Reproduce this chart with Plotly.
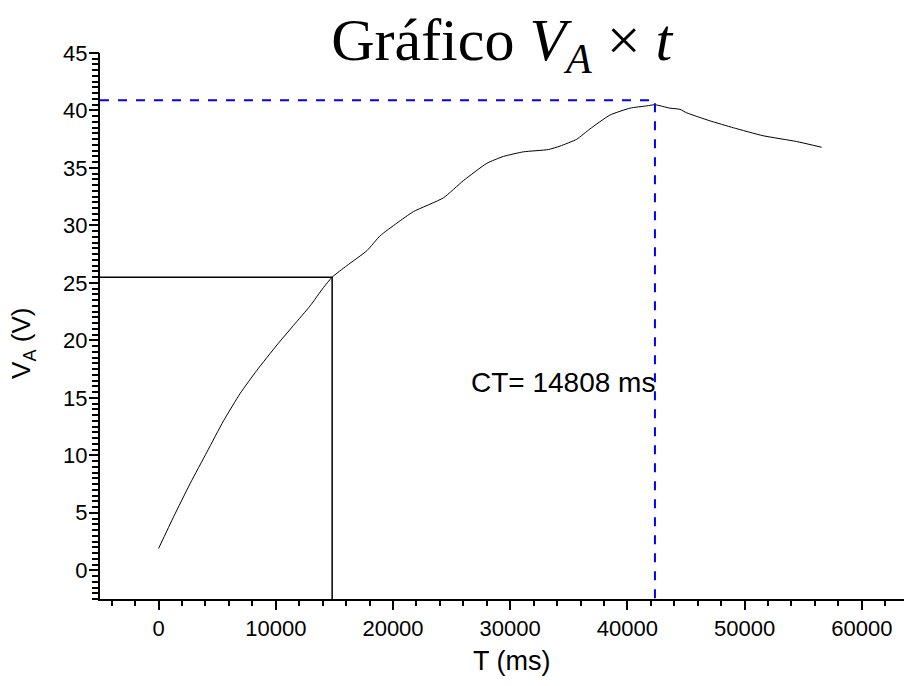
import plotly.graph_objects as go

# Measured capacitor voltage over time
t_ms = [0, 1280, 2700, 4130, 5540, 6970, 8390, 10100, 11510, 12930, 14070,
        14808, 16060, 17770, 18900, 20330, 21740, 24300, 26010, 28000, 29420,
        31120, 33250, 34250, 35680, 36810, 38510, 40220, 41640, 42350, 43630,
        44480, 45050, 47040, 49030, 51590, 54430, 56570]
v_a = [1.9, 4.65, 7.56, 10.3, 13.0, 15.4, 17.4, 19.6, 21.3, 23.0, 24.6,
       25.5, 26.5, 27.8, 29.1, 30.2, 31.2, 32.4, 33.9, 35.4, 36.0,
       36.4, 36.6, 36.9, 37.5, 38.4, 39.6, 40.2, 40.4, 40.5, 40.2,
       40.1, 39.8, 39.1, 38.5, 37.8, 37.3, 36.8]

# Time constant marker and peak marker
ct_ms = 14808
v_ct = 25.5
t_peak = 42350
v_peak_ref = 40.9

x_range = [-5000, 63600]
y_range = [-2.5, 45]
y_major_step = 5
y_minor_step = 0.5

# y ticks every 0.5, labelled only at multiples of 5
y_tickvals = []
y_ticktext = []
for n in range(int(round(y_range[0] / y_minor_step)), int(round(y_range[1] / y_minor_step)) + 1):
    v = n * y_minor_step
    y_tickvals.append(v)
    is_major = abs(v / y_major_step - round(v / y_major_step)) < 1e-9
    y_ticktext.append(f"{v:g}" if is_major else "")

fig = go.Figure()

fig.add_trace(go.Scatter(x=t_ms, y=v_a, mode="lines",
                         line=dict(color="black", width=1, shape="spline", smoothing=0.5),
                         showlegend=False))

# CT guide lines (solid black)
fig.add_trace(go.Scatter(x=[x_range[0], ct_ms, ct_ms], y=[v_ct, v_ct, y_range[0]],
                         mode="lines", line=dict(color="black", width=1.5),
                         showlegend=False))

# Peak guide lines (dashed blue)
fig.add_trace(go.Scatter(x=[x_range[0], t_peak, t_peak],
                         y=[v_peak_ref, v_peak_ref, y_range[0]],
                         mode="lines", line=dict(color="#0000ff", width=2, dash="dash"),
                         showlegend=False))

# empty trace so the overlay axis carrying the longer major ticks is built
fig.add_trace(go.Scatter(x=[None], y=[None], yaxis="y2", showlegend=False,
                         hoverinfo="skip"))

fig.add_annotation(x=34500, y=16.3, text=f"CT= {ct_ms} ms", showarrow=False,
                   font=dict(family="Liberation Sans", size=28, color="black"))

# axis titles
fig.add_annotation(xref="paper", yref="paper", x=0.5124, y=-0.1136,
                   xanchor="center", yanchor="middle",
                   text="T (ms)", showarrow=False,
                   font=dict(family="Liberation Sans", size=27, color="black"))
fig.add_annotation(xref="paper", yref="paper", x=-0.0958, y=0.469,
                   xanchor="center", yanchor="middle",
                   text="V<sub>A</sub> (V)", showarrow=False, textangle=-90,
                   font=dict(family="Liberation Sans", size=26, color="black"))

axis_common = dict(
    showgrid=False, zeroline=False, showline=True, linecolor="black", linewidth=2,
    ticks="outside", tickwidth=2, tickcolor="black",
    tickfont=dict(family="Liberation Sans", size=22, color="black"),
)

fig.update_xaxes(range=x_range, tick0=0, dtick=10000, tickformat="d", ticklen=9,
                 minor=dict(ticks="outside", dtick=2000, tick0=0, ticklen=5,
                            tickwidth=2, tickcolor="black"),
                 **axis_common)
fig.update_yaxes(range=y_range, tickmode="array", tickvals=y_tickvals,
                 ticktext=y_ticktext, ticklen=6,
                 **axis_common)

fig.update_layout(
    width=904, height=686,
    margin=dict(l=100, r=0, t=53, b=87),
    plot_bgcolor="white", paper_bgcolor="white",
    yaxis2=dict(overlaying="y", side="left", anchor="x", range=y_range,
                tick0=0, dtick=y_major_step, ticks="outside", ticklen=10,
                tickwidth=2, tickcolor="black", showticklabels=False,
                showgrid=False, zeroline=False, showline=False),
    title=dict(text="Gráfico <i>V<sub>A</sub></i> × <i>t</i>",
               x=0.555, xanchor="center", y=0.943, yanchor="middle",
               font=dict(family="Liberation Serif", size=60, color="black")),
)

fig.write_html("out.html")
